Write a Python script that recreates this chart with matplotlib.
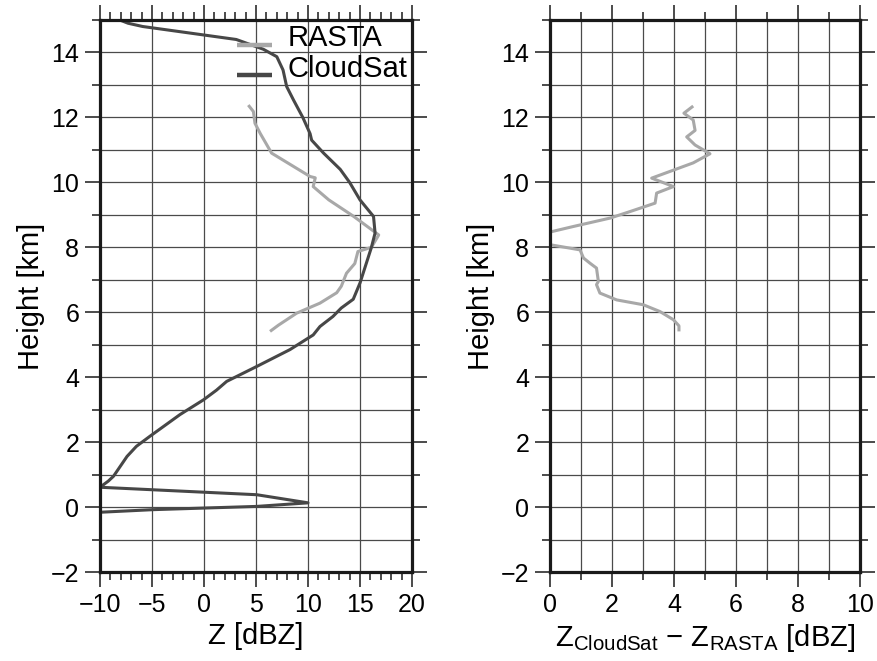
import matplotlib
matplotlib.use("Agg")
import matplotlib.pyplot as plt
from matplotlib.ticker import MultipleLocator

plt.rcParams['font.family'] = ['Liberation Sans', 'DejaVu Sans']
plt.rcParams['mathtext.fontset'] = 'custom'
plt.rcParams['mathtext.rm'] = 'Liberation Sans'
plt.rcParams['mathtext.it'] = 'Liberation Sans'

# CloudSat profile (dBZ vs km)
cs_z = [-8.1, -7.3, -5.9, 3.1, 5.7, 7.0, 7.6, 7.95, 8.6, 9.5, 10.2, 10.35, 11.5, 13.1,
        14.0, 15.0, 16.3, 16.45, 16.1, 15.6, 15.0, 14.35, 13.2, 12.4, 11.15, 10.5,
        8.27, 5.07, 2.18, 1.2, -0.06, -2.3, -5.2, -6.5, -7.4, -8.7, -9.2, -10.0,
        5.07, 10.0, 5.07, -4.9, -10.0]
cs_h = [15.0, 14.9, 14.8, 14.4, 14.1, 13.87, 13.46, 12.95, 12.54, 12.0, 11.5, 11.3, 10.9, 10.4,
        10.0, 9.46, 8.95, 8.44, 8.0, 7.5, 6.9, 6.4, 6.13, 5.87, 5.56, 5.3,
        4.85, 4.33, 3.87, 3.6, 3.3, 2.85, 2.18, 1.87, 1.56, 0.95, 0.8, 0.61,
        0.38, 0.13, 0.02, -0.08, -0.16]

# RASTA profile
ra_z = [4.26, 4.75, 4.9, 5.4, 6.5, 10.2, 10.7, 10.5, 12.0, 14.4, 16.8, 16.1, 14.8, 14.5,
        13.7, 13.2, 12.76, 11.15, 8.9, 7.15, 6.35]
ra_h = [12.38, 12.18, 11.82, 11.51, 10.9, 10.18, 10.14, 9.87, 9.46, 8.95, 8.38, 8.0, 7.87, 7.5,
        7.2, 6.8, 6.6, 6.28, 5.97, 5.6, 5.41]

# Difference CloudSat - RASTA
df_z = [4.62, 4.32, 4.62, 4.68, 4.41, 4.68, 5.16, 4.62, 3.28, 3.98, 3.44, 3.39, 2.58, 1.94,
        0.75, 0.0, -0.35, 0.0, 0.97, 1.08, 1.29, 1.5, 1.56, 1.5, 1.61, 2.15, 3.01, 3.55,
        3.98, 4.16, 4.16]
df_h = [12.35, 12.13, 11.92, 11.6, 11.4, 11.15, 10.88, 10.6, 10.13, 9.87, 9.67, 9.36, 9.1, 8.9,
        8.64, 8.47, 8.3, 8.08, 7.92, 7.67, 7.51, 7.36, 6.95, 6.85, 6.59, 6.38, 6.23, 6.02,
        5.77, 5.58, 5.41]

FS = 18
LFS = 21
GRID = '#4a4a4a'

fig = plt.figure(figsize=(8.77, 6.61), dpi=100)
ax1 = fig.add_axes([100/877, 1-572/661, 312/877, 552/661])
ax2 = fig.add_axes([550/877, 1-572/661, 310/877, 552/661])

def style(ax):
    for s in ax.spines.values():
        s.set_linewidth(2.3)
        s.set_color('#1a1a1a')
    ax.tick_params(which='both', direction='out', top=True, right=True,
                   labelsize=FS, color='#1a1a1a', width=1.1, pad=4)
    ax.tick_params(which='major', length=11)
    ax.tick_params(which='minor', length=5.5)
    ax.set_ylim(-2, 15)
    ax.yaxis.set_major_locator(MultipleLocator(2))
    ax.yaxis.set_minor_locator(MultipleLocator(1))
    ax.set_axisbelow(True)
    ax.set_ylabel('Height [km]', fontsize=LFS, labelpad=4)

# Left panel
style(ax1)
ax1.set_xlim(-10, 20)
ax1.xaxis.set_major_locator(MultipleLocator(5))
ax1.xaxis.set_minor_locator(MultipleLocator(1))
ax1.grid(True, which='major', axis='x', color=GRID, lw=0.9)
ax1.grid(True, which='both', axis='y', color=GRID, lw=0.9)
ax1.plot(ra_z, ra_h, color='#a8a8a8', lw=2.2, label='RASTA', solid_capstyle='butt')
ax1.plot(cs_z, cs_h, color='#474747', lw=2.2, label='CloudSat', solid_capstyle='butt')
ax1.set_xlabel('Z [dBZ]', fontsize=LFS, labelpad=4)
leg = ax1.legend(loc='upper right', frameon=False, fontsize=LFS, handlelength=1.2,
                 handletextpad=0.55, borderaxespad=0.05, borderpad=0.1, labelspacing=0.1)
for h in leg.get_lines():
    h.set_linewidth(3.2)
    y = h.get_ydata()
    h.set_ydata([v - 6 for v in y])

# Right panel
style(ax2)
ax2.set_xlim(0, 10)
ax2.xaxis.set_major_locator(MultipleLocator(2))
ax2.xaxis.set_minor_locator(MultipleLocator(1))
ax2.grid(True, which='both', color=GRID, lw=0.9)
ax2.plot(df_z, df_h, color='#a8a8a8', lw=2.2, solid_capstyle='butt')
ax2.set_xlabel(r'Z$_{\mathrm{CloudSat}}$ $-$ Z$_{\mathrm{RASTA}}$ [dBZ]', fontsize=LFS, labelpad=4)

fig.savefig('out.png', dpi=100, facecolor='white')
